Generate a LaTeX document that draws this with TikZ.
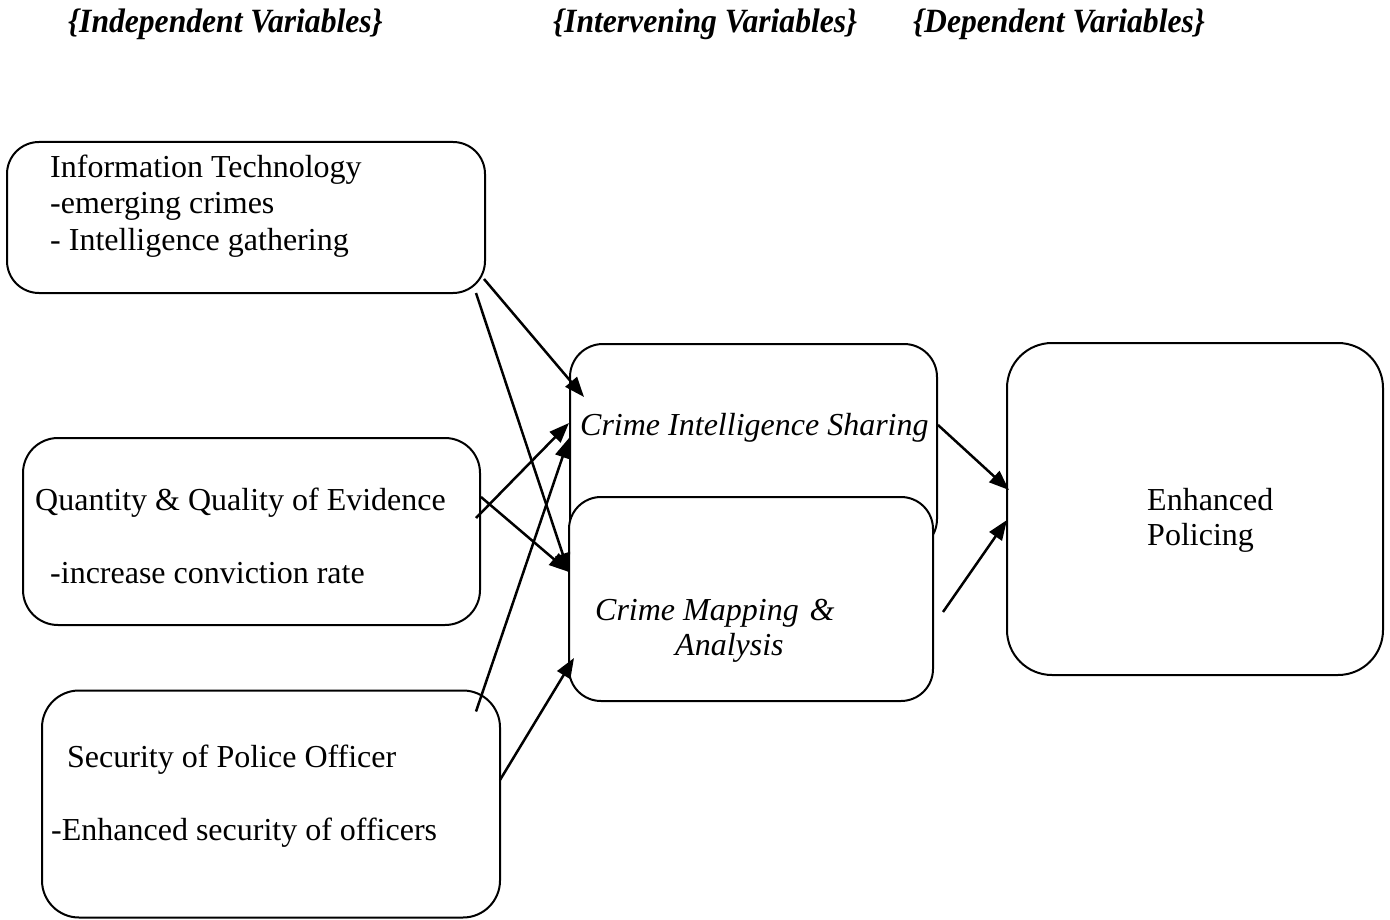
\documentclass[tikz,border=0pt]{standalone}
\usepackage{fontspec}
\setmainfont{Liberation Serif}
\newfontfamily\headfont[FakeStretch=0.93]{Liberation Serif}
\usetikzlibrary{arrows.meta,calc}
\tikzset{
  box/.style={draw=black, line width=2pt, rectangle, fill=white, inner sep=0pt},
  txt/.style={anchor=base west, inner sep=0pt, font=\fontsize{32}{36}\selectfont},
  itxt/.style={txt, font=\fontsize{32}{36}\selectfont\itshape},
  head/.style={anchor=base west, inner sep=0pt, font=\headfont\fontsize{34}{38}\selectfont\bfseries\itshape},
  conn/.style={line width=2.5pt, -{Triangle[length=20pt,width=15pt]}}
}
\begin{document}
\begin{tikzpicture}[x=1pt,y=-1pt]
\useasboundingbox (0,0) rectangle (1390,920);
% headers
\node[head] (h1) at (68,33) {\{Independent Variables\}};
\node[head] (h2) at (553,33) {\{Intervening Variables\}};
\node[head] (h3) at (913,33) {\{Dependent Variables\}};
% boxes
\node[box, rounded corners=32pt, minimum width=478pt, minimum height=151pt] (it) at (246,217.5) {};
\node[box, rounded corners=35pt, minimum width=457pt, minimum height=187pt] (qq) at (251.5,531.5) {};
\node[box, rounded corners=37pt, minimum width=458pt, minimum height=227pt] (sec) at (271,804) {};
\node[box, rounded corners=33pt, minimum width=367pt, minimum height=208pt] (cis) at (753.5,448) {};
\node[box, rounded corners=32pt, minimum width=364pt, minimum height=204pt] (cma) at (751,599) {};
\node[box, rounded corners=45pt, minimum width=376pt, minimum height=332pt] (ep) at (1195,509) {};
% texts
\node[txt] (it1) at (50,178) {Information Technology};
\node[txt] (it2) at (50,214) {-emerging crimes};
\node[txt] (it3) at (50,251) {- Intelligence gathering};
\node[txt] (qq1) at (35,510) {Quantity \& Quality of Evidence};
\node[txt] (qq2) at (50,583) {-increase conviction rate};
\node[txt] (sp1) at (67,767) {Security of Police Officer};
\node[txt] (sp2) at (51,840) {-Enhanced security of officers};
\node[itxt] (cist) at (580,435) {Crime Intelligence Sharing};
\node[itxt] (cm1) at (595,620) {Crime Mapping\hspace{11pt}\&};
\node[itxt] (cm2) at (675,655) {Analysis};
\node[txt] (ep1) at (1147,510) {Enhanced};
\node[txt] (ep2) at (1147,545) {Policing};
% connectors
\draw[conn] ($(it.south east)+(-2,-15)$) -- ($(cis.west)+(15,-51)$);
\draw[conn] ($(it.south east)+(-10,-1)$) -- ($(cma.west)+(1,-26)$);
\draw[conn] ($(qq.east)+(-5,-13.5)$) -- ($(cis.west)+(0,-25)$);
\draw[conn] ($(qq.east)+(0,-34.5)$) -- ($(cma.west)+(1,-27)$);
\draw[conn] ($(sec.north east)+(-25,22)$) -- ($(cis.west)+(0,-10)$);
\draw[conn] ($(sec.east)+(-1,-24)$) -- ($(cma.west)+(6,59)$);
\draw[conn] ($(cis.east)+(0,-23)$) -- ($(ep.west)+(3,-19)$);
\draw[conn] ($(cma.east)+(9,13)$) -- ($(ep.west)+(1,11)$);
\end{tikzpicture}
\end{document}
